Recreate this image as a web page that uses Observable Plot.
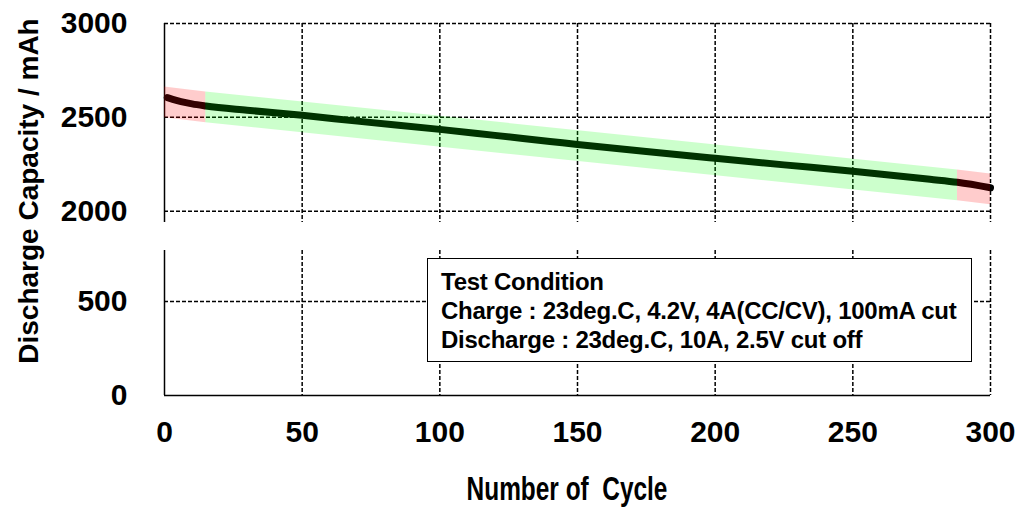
<!DOCTYPE html>
<html><head><meta charset="utf-8">
<script src="https://cdn.jsdelivr.net/npm/d3@7"></script>
<script src="https://cdn.jsdelivr.net/npm/@observablehq/plot@0.6"></script>
<style>
html,body{margin:0;padding:0;background:#fff;}
#wrap{position:relative;width:1020px;height:515px;overflow:hidden;font-family:"Liberation Sans",Arial,sans-serif;color:#000;background:#fff;}
#top,#bottom{position:absolute;left:0;}
#top{top:0px;}
#bottom{top:230px;}
#ylabel{position:absolute;left:29px;top:191px;transform:translate(-50%,-50%) rotate(-90deg);font-size:28px;font-weight:bold;line-height:34px;white-space:nowrap;}
#xlabel{position:absolute;left:567px;top:472px;transform:translateX(-50%) scaleX(0.74);font-size:33px;font-weight:bold;line-height:34px;white-space:nowrap;}
#box{position:absolute;left:427px;top:258px;width:545px;height:104px;box-sizing:border-box;border:1.5px solid #000;background:#fff;padding:8px 0 0 13px;font-size:24px;font-weight:bold;line-height:29px;white-space:nowrap;letter-spacing:-0.25px;}
</style>
</head><body>
<div id="wrap">
  <div id="top"></div>
  <div id="bottom"></div>
  <div id="ylabel">Discharge Capacity / mAh</div>
  <div id="xlabel">Number of&nbsp; Cycle</div>
  <div id="box"></div>
</div>
<script>
// ---- data ----
const xTicks = [0, 50, 100, 150, 200, 250, 300];
const topTicks = [2000, 2500, 3000];
const bottomTicks = [0, 500];
const cycles   = [1, 3, 6, 10, 15, 30, 50, 70, 100, 120, 140, 150, 175, 200, 225, 250, 278, 288, 300];
const capacity = [2605, 2596, 2584, 2572, 2561, 2538, 2511, 2480, 2436, 2404, 2372, 2356, 2318, 2282, 2247, 2213, 2170, 2154, 2125];
const bandCycles = [0, 15, 288, 300];
const bandLow  = [2498, 2471, 2056, 2035];
const bandHigh = [2662, 2635, 2220, 2199];
const bandZones = ["start", "stable", "end"];
const conditionLines = [
  "Test Condition",
  "Charge : 23deg.C, 4.2V, 4A(CC/CV), 100mA cut",
  "Discharge : 23deg.C, 10A, 2.5V cut off"
];

// ---- build tables ----
const lineData = cycles.map((c, i) => ({cycle: c, cap: capacity[i]}));
const bandData = [];
bandZones.forEach((z, i) => {
  [i, i + 1].forEach(j => bandData.push({zone: z, cycle: bandCycles[j], low: bandLow[j], high: bandHigh[j]}));
});

const font = '"Liberation Sans", Arial, sans-serif';
const dash = {stroke: "#000", strokeWidth: 1.5, strokeDasharray: "4,2"};
const solid = {stroke: "#000", strokeWidth: 1.5};
const fmt = d => String(d);

const topPlot = Plot.plot({
  width: 1020, height: 230,
  marginTop: 23, marginBottom: 8, marginLeft: 164, marginRight: 30,
  style: {fontFamily: font, fontSize: "30px", fontWeight: "bold", color: "#000", background: "transparent", overflow: "visible"},
  x: {domain: [0, 300], axis: null},
  y: {domain: [1940, 3000], ticks: topTicks, tickSize: 0, tickPadding: 37, tickFormat: fmt, label: null},
  marks: [
    Plot.ruleY(topTicks, dash),
    Plot.ruleX(xTicks.filter(d => d > 0), dash),
    Plot.ruleX([0], solid),
    Plot.line(lineData, {x: "cycle", y: "cap", stroke: "#000", strokeWidth: 7, curve: "monotone-x"}),
    Plot.areaY(bandData.filter(d => d.zone !== "stable"), {x: "cycle", y1: "low", y2: "high", z: "zone", fill: "rgb(255,0,0)", fillOpacity: 0.2}),
    Plot.areaY(bandData.filter(d => d.zone === "stable"), {x: "cycle", y1: "low", y2: "high", z: "zone", fill: "rgb(0,255,0)", fillOpacity: 0.2})
  ]
});
document.getElementById("top").appendChild(topPlot);

const bottomPlot = Plot.plot({
  width: 1020, height: 285,
  marginTop: 20, marginBottom: 120, marginLeft: 164, marginRight: 30,
  style: {fontFamily: font, fontSize: "30px", fontWeight: "bold", color: "#000", background: "transparent", overflow: "visible"},
  x: {domain: [0, 300], ticks: xTicks, tickSize: 0, tickPadding: 25, tickFormat: fmt, label: null},
  y: {domain: [0, 771], ticks: bottomTicks, tickSize: 0, tickPadding: 37, tickFormat: fmt, label: null},
  marks: [
    Plot.ruleY(bottomTicks.filter(d => d > 0), dash),
    Plot.ruleX(xTicks.filter(d => d > 0), dash),
    Plot.ruleX([0], solid),
    Plot.ruleY([0], solid)
  ]
});
document.getElementById("bottom").appendChild(bottomPlot);

const box = document.getElementById("box");
conditionLines.forEach(t => {
  const div = document.createElement("div");
  div.textContent = t;
  box.appendChild(div);
});
</script>
</body></html>
